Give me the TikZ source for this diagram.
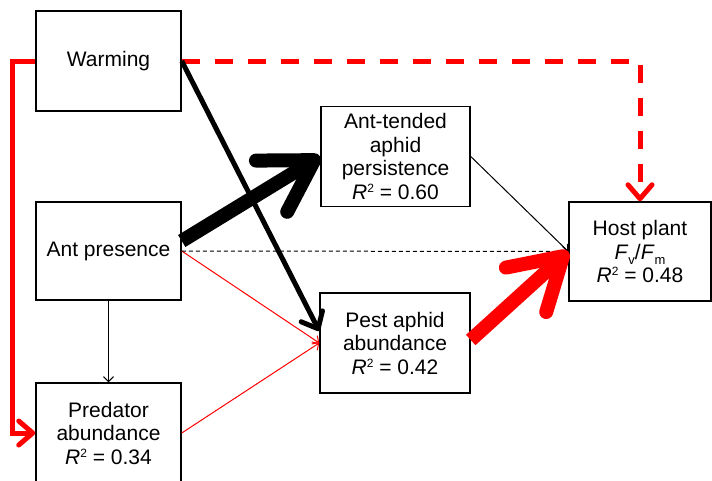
\documentclass[tikz,border=0pt]{standalone}
\usepackage{fontspec}
\setmainfont{Liberation Sans}
\usetikzlibrary{arrows.meta}

\newcommand{\rsq}[1]{\textit{R}\raisebox{7pt}{\fontsize{12}{12}\selectfont 2} = #1}
\newcommand{\lowidx}[1]{\raisebox{-5pt}{\fontsize{13}{13}\selectfont #1}}

\tikzset{
    box/.style={draw, line width=1.5pt, minimum width=145pt, minimum height=100pt,
        align=center, inner sep=2pt, font=\fontsize{21}{23.5}\selectfont},
    weak/.style={line width=1pt, -{Straight Barb[length=5pt,width=10pt]}},
    mid/.style={line width=5pt, -{Straight Barb[round,length=14pt,width=24pt]}},
    heavy/.style={line width=14pt, -{Straight Barb[round,length=50pt,width=60pt]}}
}

\begin{document}
\begin{tikzpicture}[x=1pt,y=-1pt]
    \useasboundingbox (0,0) rectangle (712,480);
    \clip (0,0) rectangle (712,480);
    \node[box] (warm) at (108.5,61) {Warming};
    \node[box, minimum height=98pt] (ant) at (108.5,251) {Ant presence};
    \node[box] (pred) at (108.5,433) {Predator\\abundance\\\rsq{0.34}};
    \node[box, minimum width=149pt] (tend) at (395.5,156.5) {Ant-tended\\aphid\\persistence\\\rsq{0.60}};
    \node[box, minimum width=150pt] (pest) at (395,343) {Pest aphid\\abundance\\\rsq{0.42}};
    \node[box, minimum width=142pt, minimum height=99pt] (host) at (640,251.5) {Host plant\\\textit{F}\lowidx{v}/\textit{F}\lowidx{m}\\\rsq{0.48}};
    \draw[weak] (ant.south) -- (pred.north);
    \draw[weak, red] (ant.east) -- (pest.west);
    \draw[weak, red] (pred.east) -- (pest.west);
    \draw[weak] (tend.east) -- (host.west);
    \draw[weak, dashed, dash pattern=on 4pt off 3pt] (ant.east) -- (host.west);
    \draw[mid, red, dash pattern=on 18pt off 15pt] (warm.east) -| (host.north);
    \draw[mid, red] (warm.west) -- ++(-23,0) |- (pred.west);
    \draw[mid] (warm.east) -- ([yshift=12pt]pest.west);
    \draw[heavy] ([yshift=10pt]ant.east) -- (tend.west);
    \draw[heavy, red] ([yshift=3pt]pest.east) -- (host.west);
\end{tikzpicture}
\end{document}
